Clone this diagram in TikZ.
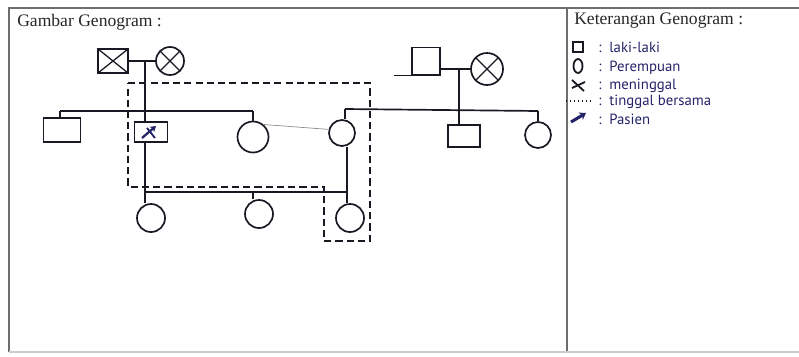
\documentclass[tikz,border=0pt]{standalone}
\usepackage{fontspec}
\setmainfont{Liberation Serif}
\newfontfamily\handfont{PT Sans}
\usepackage{tikz}
\usetikzlibrary{positioning}
\usetikzlibrary{calc}
\usetikzlibrary{arrows.meta}

\definecolor{ink}{RGB}{25,25,35}
\definecolor{pen}{RGB}{35,35,105}
\definecolor{framegray}{RGB}{110,110,110}

\tikzset{
  male/.style={rectangle, draw=ink, line width=1.2pt, inner sep=0pt},
  female/.style={circle, draw=ink, line width=1.2pt, inner sep=0pt},
  deceased/.style={path picture={\draw[ink, line width=0.9pt]
      (path picture bounding box.north west) -- (path picture bounding box.south east)
      (path picture bounding box.south west) -- (path picture bounding box.north east);}},
  rel/.style={draw=ink, line width=1.2pt},
  household/.style={draw=ink, line width=1.1pt, dash pattern=on 5pt off 3pt},
  frameline/.style={draw=framegray, line width=1.2pt},
  heading/.style={anchor=west, inner sep=0pt, text=black!85, font=\fontsize{12.5}{14}\selectfont},
  note/.style={anchor=west, inner sep=0pt, text=pen, font=\handfont\fontsize{10.5}{12}\selectfont}
}

\begin{document}
\begin{tikzpicture}[x=0.025cm, y=-0.025cm]
      \useasboundingbox (0,0) rectangle (799,356);
      % Frame and divider
      \draw[frameline] (9,352) -- (9,8) -- (799,8);
      \draw[frameline] (567,8) -- (567,352);
      \draw[draw=black!20, line width=0.8pt] (9,352) -- (799,352);
      \node[heading] (title) at (17,22) {Gambar Genogram :};
      \node[heading] (legtitle) at (574,21) {Keterangan Genogram :};

      % Left grandparents (both deceased)
      \node[male, deceased, minimum width=0.75cm, minimum height=0.6cm] (gfL) at (113,61) {};
      \node[female, deceased, minimum size=0.7cm] (gmL) at (170,61) {};
      \coordinate (mL) at (145,61);
      \draw[rel] (gfL.east) -- (gmL.west);

      % Right grandparents
      \node[male, minimum width=0.7cm, minimum height=0.675cm] (gfR) at (426,61) {};
      \node[female, deceased, minimum size=0.8cm] (gmR) at (487,69) {};
      \coordinate (mR) at (459,69);
      \draw[rel] (gfR.south east) -- ++(-47,0);
      \draw[rel] (gfR.east |- mR) -- (gmR.west);

      % Left sibship
      \coordinate (sibL) at (60,111);
      \coordinate (sibLend) at (253,111);
      \node[male, minimum width=0.925cm, minimum height=0.6cm] (sonL) at (62,130) {};
      \node[male, minimum width=0.825cm, minimum height=0.5cm] (pat) at (151,132) {};
      \node[female, minimum size=0.775cm] (dauL) at (253,137) {};
      \draw[rel] (sibL) -- (sibLend);
      \draw[rel] (sibL) -- (sibL |- sonL.north);
      \draw[rel] (sibLend) -- (dauL.north);
      \draw[rel] (mL) -- (mL |- pat.north);
      % Patient mark
      \draw[pen, line width=1.6pt, -{Stealth[length=4pt, width=5pt]}] ($(pat.center)+(-9,6)$) -- ($(pat.center)+(5,-6)$);
      \draw[pen, line width=1.3pt] ($(pat.center)+(-4,-4)$) -- ($(pat.center)+(0,1)$) -- ($(pat.center)+(4,6)$);

      % Right sibship
      \coordinate (sibR) at (345,109);
      \coordinate (sibRend) at (538,111);
      \node[female, minimum size=0.65cm] (wife) at (342,133) {};
      \node[male, minimum width=0.8cm, minimum height=0.55cm] (sonR) at (464,136) {};
      \node[female, minimum size=0.65cm] (dauR) at (538,135) {};
      \draw[rel] (sibR) -- (sibRend);
      \draw[rel] (sibR) -- (sibR |- wife.north);
      \draw[rel] (mR) -- (mR |- sonR.north);
      \draw[rel] (sibRend) -- (dauR.north);
      \draw[black!45, line width=0.5pt] (dauL.50) -- (wife.165);

      % Patient's marriage and children
      \coordinate (mP) at (145,192);
      \coordinate (mW) at (347,192);
      \draw[rel] (mL |- pat.south) -- (mP) -- (mW);
      \draw[rel] (wife.south -| mW) -- (mW);
      \foreach \n/\x/\y/\s in {1/151/218/145, 2/259/214/253, 3/350/218/347} {
        \node[female, minimum size=0.7cm] (ch\n) at (\x,\y) {};
        \coordinate (st\n) at (\s,192);
        \draw[rel] (st\n) -- (st\n |- ch\n.north);
      }

      % Household boundary
      \draw[household] (128,83) -- (370,83) -- (370,241) -- (324,241) -- (324,187) -- (128,187) -- cycle;

      % Legend
      \draw[ink, line width=2pt] (573,42) rectangle (583,52);
      \node[note] (legM) at (598,47) {:\ \ laki-laki};
      \draw[ink, line width=1.3pt] (578,66) ellipse (4.5 and 7);
      \node[note] (legF) at (598,68) {:\ \ Perempuan};
      \draw[ink, line width=1.3pt] (572,80) -- (584,91) (572,88) -- (585,82);
      \node[note] (legD) at (598,86) {:\ \ meninggal};
      \draw[ink, line width=0.8pt, dotted] (566,101) -- (592,101);
      \node[note] (legH) at (598,102) {:\ \ tinggal bersama};
      \draw[pen, line width=2.2pt, -{Stealth[length=4.5pt, width=6pt]}] (571,122) -- (586,113);
      \node[note] (legP) at (598,119) {:\ \ Pasien};
\end{tikzpicture}
\end{document}
